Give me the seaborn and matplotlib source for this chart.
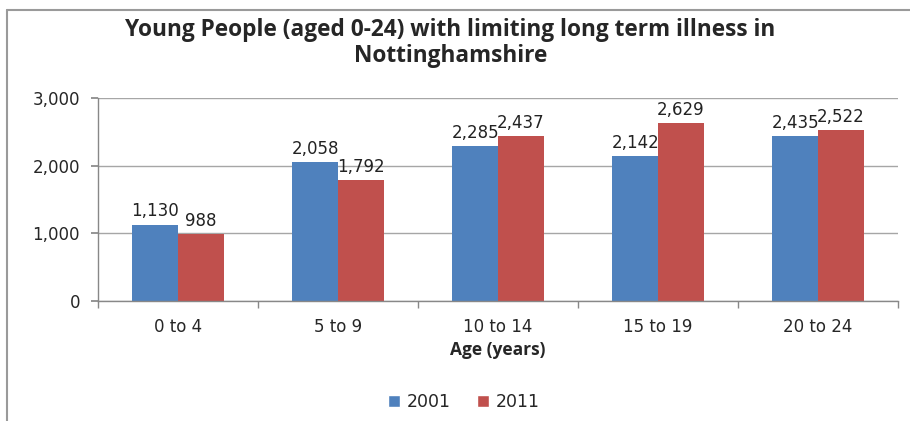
import matplotlib
matplotlib.use("Agg")
import matplotlib.pyplot as plt
import pandas as pd
import seaborn as sns
from matplotlib.lines import Line2D
from matplotlib.patches import Patch

# data
age_groups = ["0 to 4", "5 to 9", "10 to 14", "15 to 19", "20 to 24"]
years = ["2001", "2011"]
values_2001 = [1130, 2058, 2285, 2142, 2435]
values_2011 = [988, 1792, 2437, 2629, 2522]
year_colors = {"2001": "#4F81BD", "2011": "#C0504D"}

df = pd.DataFrame({
    "age": age_groups * 2,
    "year": [years[0]] * len(age_groups) + [years[1]] * len(age_groups),
    "count": values_2001 + values_2011,
})

sns.set_theme(style="white")
plt.rcParams["font.family"] = ["DejaVu Sans"]

fig = plt.figure(figsize=(9.1, 4.21), dpi=100)
ax = fig.add_axes([0.1077, 0.285, 0.879, 0.482])

sns.barplot(data=df, x="age", y="count", hue="year", order=age_groups,
            hue_order=years, palette=year_colors, width=0.57, saturation=1,
            linewidth=0, ax=ax, legend=False)

for container in ax.containers:
    ax.bar_label(container, labels=[f"{v:,.0f}" for v in container.datavalues],
                 padding=3, fontsize=12, color="#222222")

ax.set_ylim(0, 3000)
ax.set_xlim(-0.5, len(age_groups) - 0.5)
ax.set_yticks([0, 1000, 2000, 3000])
ax.set_yticklabels([f"{v:,}" for v in [0, 1000, 2000, 3000]], fontsize=12)
ax.yaxis.grid(True, color="#a6a6a6", linewidth=1)
ax.set_axisbelow(True)

# category boundary ticks on x axis
ax.set_xticks(range(len(age_groups)))
ax.set_xticklabels(age_groups, fontsize=12)
ax.tick_params(axis="x", length=0, pad=12)
ax.set_xticks([i - 0.5 for i in range(len(age_groups) + 1)], minor=True)
ax.tick_params(axis="x", which="minor", length=5, color="#888888", direction="out", bottom=True)
ax.tick_params(axis="y", length=5, color="#888888", direction="out", left=True, pad=8)

for side in ["top", "right"]:
    ax.spines[side].set_visible(False)
for side in ["left", "bottom"]:
    ax.spines[side].set_color("#888888")
    ax.spines[side].set_linewidth(1)

ax.set_ylabel("")
ax.set_xlabel("Age (years)", fontsize=12.5, fontweight="bold", family="Open Sans", labelpad=4)

fig.suptitle("Young People (aged 0-24) with limiting long term illness in\nNottinghamshire",
             x=0.495, y=0.958, fontsize=16.3, fontweight="bold", family="Open Sans",
             linespacing=1.12, va="top")

handles = [Patch(facecolor=year_colors[y], label=y) for y in years]
fig.legend(handles=handles, loc="center", bbox_to_anchor=(0.51, 0.045), ncol=2,
           frameon=False, fontsize=12.5, handlelength=0.7, handleheight=0.7,
           columnspacing=1.5, handletextpad=0.4)

# outer chart frame (top and left edges visible)
fig.add_artist(Line2D([7 / 910, 1], [1 - 10 / 421, 1 - 10 / 421],
                      transform=fig.transFigure, color="#9a9a9a", linewidth=1.5))
fig.add_artist(Line2D([7 / 910, 7 / 910], [0, 1 - 10 / 421],
                      transform=fig.transFigure, color="#9a9a9a", linewidth=1.5))

fig.savefig("out.png", dpi=100)
plt.close(fig)
